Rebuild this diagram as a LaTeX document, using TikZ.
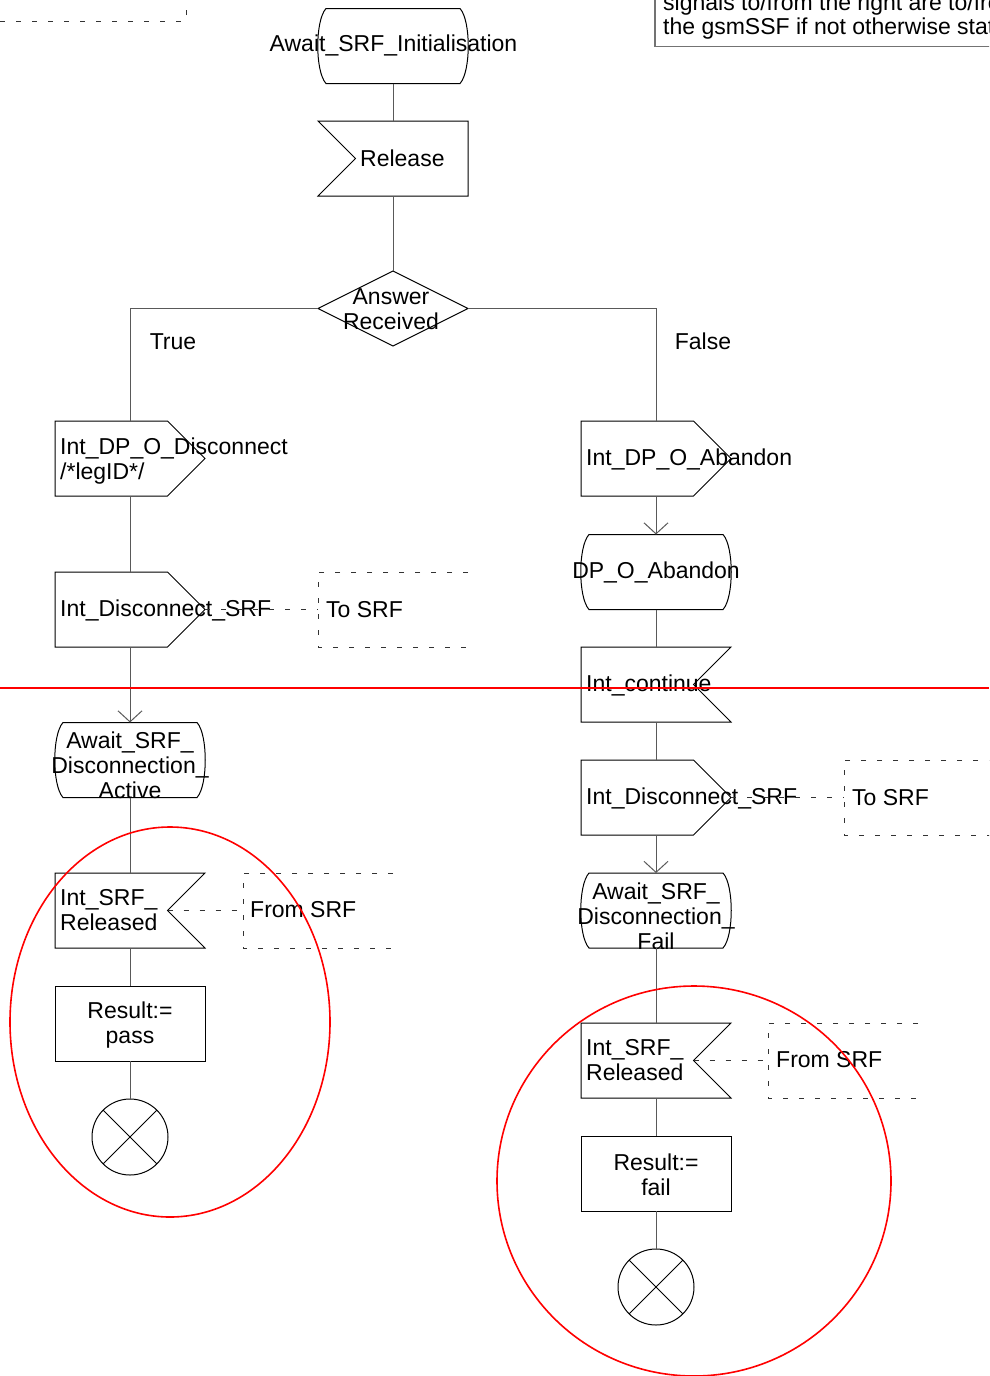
\documentclass[tikz,border=0pt]{standalone}
\usepackage{fontspec}
\setmainfont{Liberation Sans}
\usetikzlibrary{shapes.geometric,arrows.meta,calc}

% SDL symbol outlines, drawn around empty named nodes of fixed size
\newcommand\outsignal[1]{\draw[outline] (#1.north west) -- ([xshift=-37.5pt]#1.north east) -- (#1.east) -- ([xshift=-37.5pt]#1.south east) -- (#1.south west) -- cycle;}
\newcommand\insignalL[1]{\draw[outline] (#1.north west) -- (#1.north east) -- (#1.south east) -- (#1.south west) -- ([xshift=37.5pt]#1.west) -- cycle;}
\newcommand\insignalR[1]{\draw[outline] (#1.north west) -- (#1.north east) -- ([xshift=-37.5pt]#1.east) -- (#1.south east) -- (#1.south west) -- cycle;}
\newcommand\statebox[1]{\draw[outline] ([xshift=8pt]#1.north west) -- ([xshift=-8pt]#1.north east)
  .. controls ([xshift=3pt,yshift=-12pt]#1.north east) and ([xshift=3pt,yshift=12pt]#1.south east) .. ([xshift=-8pt]#1.south east)
  -- ([xshift=8pt]#1.south west)
  .. controls ([xshift=-3pt,yshift=12pt]#1.south west) and ([xshift=-3pt,yshift=-12pt]#1.north west) .. ([xshift=8pt]#1.north west) -- cycle;}
\newcommand\commentbox[1]{\draw[dashbox] (#1.north east) -- (#1.north west) -- (#1.south west) -- (#1.south east);}
\newcommand\stopcross[1]{\draw[outline] (#1.45) -- (#1.225); \draw[outline] (#1.135) -- (#1.315);}

\tikzset{
  sym/.style={minimum width=150pt, minimum height=75pt, inner sep=0pt, outer sep=0pt},
  lbl/.style={font=\fontsize{23}{25}\selectfont, inner sep=0pt, align=center},
  lbll/.style={lbl, align=left, anchor=west},
  outline/.style={draw=black, line width=1pt},
  flow/.style={draw=black!65, line width=1pt},
  arr/.style={flow, -{Straight Barb[length=11pt,width=24pt]}},
  dashbox/.style={draw=black!80, line width=1pt, dash pattern=on 5pt off 11pt},
  redmark/.style={draw=red, line width=1.6pt},
}

\begin{document}
\begin{tikzpicture}[x=1pt, y=-1pt]
\useasboundingbox (0,0) rectangle (989,1376);
\clip (0,0) rectangle (989,1376);
\fill[white] (0,0) rectangle (989,1376);

% corner of a dashed comment at the top left
\draw[dashbox] (0,21) -- (186,21) -- (186,-5);

% text box at the top right
\draw[draw=black!55, line width=1.8pt] (655,-20) -- (655,46.5) -- (1000,46.5);
\node[lbl, anchor=west] (noteA) at (663,5) {signals to/from the right are to/from};
\node[lbl, anchor=west] (noteB) at (663,29) {the gsmSSF if not otherwise stated};

% centre column
\node[sym] (init) at (393,46) {};
\statebox{init}
\node[lbl] (initT) at (393.5,45.5) {Await\_SRF\_Initialisation};

\node[sym] (release) at (393,158.5) {};
\insignalL{release}
\node[lbll] (releaseT) at (360,158.5) {Release};

\node[diamond, draw=black, line width=1pt, minimum width=150pt, minimum height=75pt, inner sep=0pt, outer sep=0pt, aspect=2] (dec) at (393,308.5) {};
\node[lbl] (decT) at (391,309) {Answer\\Received};

\draw[flow] (init) -- (release);
\draw[flow] (release) -- (dec);

% left branch
\node[sym] (disc) at (130,458.5) {};
\outsignal{disc}
\node[lbll] (discT) at (60,461) {Int\_DP\_O\_Disconnect\\/*legID*/};

\node[sym] (dsA) at (130,609.5) {};
\outsignal{dsA}
\node[lbll] (dsAT) at (60,610) {Int\_Disconnect\_SRF};
\node[sym] (toA) at (393,609.5) {};
\commentbox{toA}
\node[lbll] (toAT) at (326,610) {To SRF};
\draw[dashbox] (dsA.east) -- (toA.west);

\node[sym] (stA) at (130,760) {};
\statebox{stA}
\node[lbl] (stAT) at (130,765.5) {Await\_SRF\_\\Disconnection\_\\Active};

\node[sym] (relA) at (130,910.5) {};
\insignalR{relA}
\node[lbll] (relAT) at (60,910) {Int\_SRF\_\\Released};
\node[sym] (fromA) at (318,910.5) {};
\commentbox{fromA}
\node[lbll] (fromAT) at (250,910) {From SRF};
\draw[dashbox] ([xshift=-37.5pt]relA.east) -- (fromA.west);

\node[sym, outline] (resA) at (130,1023.5) {};
\node[lbl] (resAT) at (130,1025) {Result:=\\pass};

\node[circle, outline, minimum size=76pt, inner sep=0pt, outer sep=0pt] (stopA) at (130,1137) {};
\stopcross{stopA}

\draw[flow] (dec.west) -| (disc.north);
\draw[flow] (disc) -- (dsA);
\draw[arr] (dsA) -- (stA);
\draw[flow] (stA) -- (relA);
\draw[flow] (relA) -- (resA);
\draw[flow] (resA) -- (stopA);
\node[lbl] (trueT) at (173,341.5) {True};

% right branch
\node[sym] (aband) at (656,458.5) {};
\outsignal{aband}
\node[lbll] (abandT) at (586,459) {Int\_DP\_O\_Abandon};

\node[sym] (dpab) at (656,572) {};
\statebox{dpab}
\node[lbl] (dpabT) at (656,572) {DP\_O\_Abandon};

\node[sym] (cont) at (656,684.5) {};
\insignalR{cont}
\node[lbll] (contT) at (586,685) {Int\_continue};

\node[sym] (dsB) at (656,797.5) {};
\outsignal{dsB}
\node[lbll] (dsBT) at (586,798) {Int\_Disconnect\_SRF};
\node[sym] (toB) at (919,797.5) {};
\commentbox{toB}
\node[lbll] (toBT) at (852,798) {To SRF};
\draw[dashbox] (dsB.east) -- (toB.west);

\node[sym] (stB) at (656,910.5) {};
\statebox{stB}
\node[lbl] (stBT) at (656,916) {Await\_SRF\_\\Disconnection\_\\Fail};

\node[sym] (relB) at (656,1060.5) {};
\insignalR{relB}
\node[lbll] (relBT) at (586,1060) {Int\_SRF\_\\Released};
\node[sym] (fromB) at (843,1060.5) {};
\commentbox{fromB}
\node[lbll] (fromBT) at (776,1060) {From SRF};
\draw[dashbox] ([xshift=-37.5pt]relB.east) -- (fromB.west);

\node[sym, outline] (resB) at (656,1173.5) {};
\node[lbl] (resBT) at (656,1175) {Result:=\\fail};

\node[circle, outline, minimum size=76pt, inner sep=0pt, outer sep=0pt] (stopB) at (656,1287) {};
\stopcross{stopB}

\draw[flow] (dec.east) -| (aband.north);
\draw[arr] (aband) -- (dpab);
\draw[flow] (dpab) -- (cont);
\draw[flow] (cont) -- (dsB);
\draw[arr] (dsB) -- (stB);
\draw[flow] (stB) -- (relB);
\draw[flow] (relB) -- (resB);
\draw[flow] (resB) -- (stopB);
\node[lbl] (falseT) at (703,341.5) {False};

% red markings
\draw[redmark] (0,688) -- (989,688);
\draw[redmark] (170,1022) ellipse [x radius=160pt, y radius=195pt];
\draw[redmark] (694,1181) ellipse [x radius=197pt, y radius=195pt];
\end{tikzpicture}
\end{document}
